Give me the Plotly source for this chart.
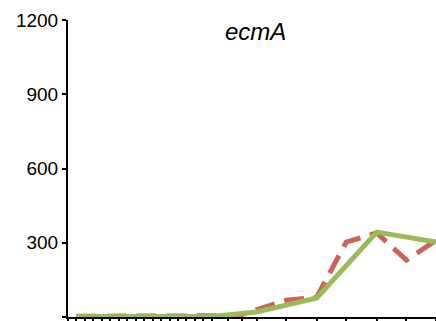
import plotly.graph_objects as go

# time points (arbitrary units matching the axis spacing)
time = [1, 2, 3, 4, 5, 6, 7, 8, 9, 10, 11, 12, 13, 14, 15, 16, 17,
        18.9, 20.6, 22.3, 25.8, 29.4, 32.9, 36.5, 40.0, 43.5]
tick_times = [0] + time

blue_t = time[:19]
blue_v = [0, 0, 0, 0, 0, 0, 1, 1, 1, 1, 1, 1, 0, 0, 0, 0, 0, 0, 2]

red_t = time
red_v = [3, 3, 3, 3, 3, 3, 3, 3, 3, 3, 3, 3, 3, 3, 3, 3, 3,
         5, 10, 28, 68, 80, 303, 340, 230, 310]

green_t = time[:17] + [22.3, 29.4, 36.5, 43.5]
green_v = [1, 1, 1, 1, 1, 1, 1, 1, 1, 1, 1, 1, 1, 1, 1, 1, 2,
           20, 77, 343, 303]

y_ticks = [0, 300, 600, 900, 1200]

fig = go.Figure()
fig.add_trace(go.Scatter(x=blue_t, y=blue_v, mode="lines",
                         line=dict(color="#5B9BD5", width=5), showlegend=False))
fig.add_trace(go.Scatter(x=red_t, y=red_v, mode="lines",
                         line=dict(color="#D0605A", width=5, dash="20px,10px"),
                         showlegend=False))
fig.add_trace(go.Scatter(x=green_t, y=green_v, mode="lines",
                         line=dict(color="#9BBB59", width=5), showlegend=False))

fig.update_layout(
    width=436, height=321,
    margin=dict(l=68, r=0, t=20, b=4),
    paper_bgcolor="white", plot_bgcolor="white",
    font=dict(family="Liberation Sans, Arial", color="black", size=19),
    annotations=[dict(text="<i>ecmA</i>", x=0.51, y=36, xref="paper", yref="paper",
                      showarrow=False, font=dict(size=24, family="Liberation Sans, Arial"))],
)
fig.layout.annotations[0].update(yref="paper", y=0.96, yanchor="middle")
fig.update_xaxes(range=[0, 43.5], showgrid=False, zeroline=False,
                 showline=True, linecolor="black", linewidth=2,
                 ticks="outside", ticklen=4, tickwidth=1.5, tickcolor="black",
                 tickvals=tick_times, showticklabels=False)
fig.update_yaxes(range=[0, 1200], showgrid=False, zeroline=False,
                 showline=True, linecolor="black", linewidth=2,
                 ticks="outside", ticklen=4, tickwidth=2, tickcolor="black",
                 tickvals=y_ticks, ticktext=[str(v) for v in y_ticks])

fig.write_html("out.html")
